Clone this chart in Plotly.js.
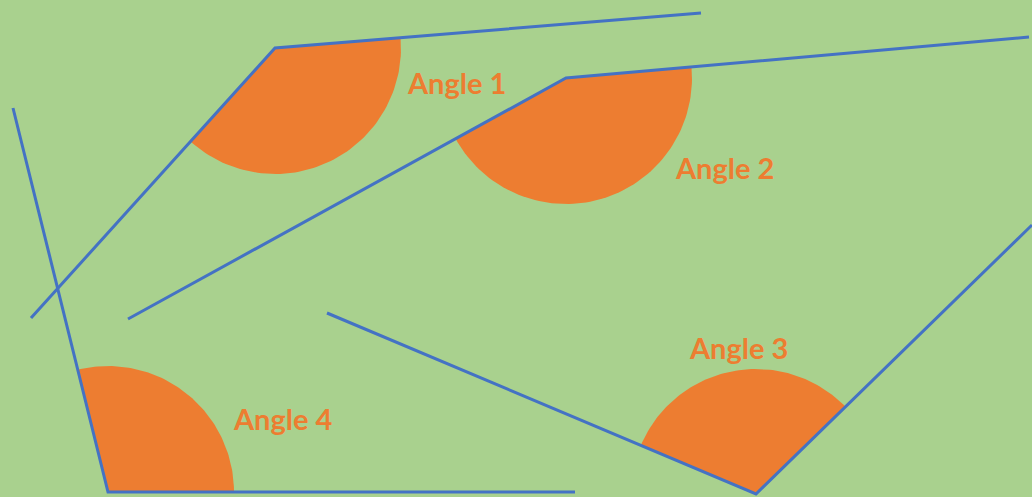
<!DOCTYPE html>
<html><head><meta charset="utf-8">
<script src="https://cdn.plot.ly/plotly-3.0.1.min.js"></script>
<style>html,body{margin:0;padding:0;background:#A9D18E;}#chart{width:1032px;height:497px;}</style>
</head><body><div id="chart"></div>
<script>
// Angle data (pixel-like coordinates, y downward)
const angleNames = ["Angle 1", "Angle 2", "Angle 3", "Angle 4"];
const vertexX = [275, 566, 756, 108];
const vertexY = [48, 78, 494, 492];
const rayAX = [31, 128, 327, 13];
const rayAY = [318, 319, 313, 108];
const rayBX = [701, 1029, 1032, 575];
const rayBY = [13, 37, 225, 492];
const arcRadius = [126, 126, 125, 126];
const labelX = [456, 724, 738, 283];
const labelY = [82, 167, 347, 418];

const traces = [];
for (let i = 0; i < vertexX.length; i++) {
  const vx = vertexX[i], vy = vertexY[i], r = arcRadius[i];
  const a1 = Math.atan2(rayAY[i] - vy, rayAX[i] - vx);
  const a2 = Math.atan2(rayBY[i] - vy, rayBX[i] - vx);
  let d = a2 - a1;
  while (d > Math.PI) d -= 2 * Math.PI;
  while (d <= -Math.PI) d += 2 * Math.PI;
  const xs = [vx], ys = [vy];
  const n = 80;
  for (let k = 0; k <= n; k++) {
    const a = a1 + d * k / n;
    xs.push(vx + r * Math.cos(a));
    ys.push(vy + r * Math.sin(a));
  }
  xs.push(vx); ys.push(vy);
  traces.push({x: xs, y: ys, type: 'scatter', mode: 'lines', fill: 'toself',
    fillcolor: '#ED7D31', line: {width: 0, color: '#ED7D31'}, hoverinfo: 'skip', showlegend: false});
}
for (let i = 0; i < vertexX.length; i++) {
  traces.push({x: [rayAX[i], vertexX[i], rayBX[i]], y: [rayAY[i], vertexY[i], rayBY[i]],
    type: 'scatter', mode: 'lines', line: {color: '#4472C4', width: 3}, hoverinfo: 'skip', showlegend: false});
}
const annotations = angleNames.map((t, i) => ({
  x: labelX[i], y: labelY[i], xref: 'x', yref: 'y', text: '<b>' + t + '</b>', showarrow: false,
  font: {family: 'Lato, "Open Sans", sans-serif', size: 29, color: '#ED7D31'},
  xanchor: 'center', yanchor: 'middle'
}));
const layout = {
  width: 1032, height: 497, margin: {l: 0, r: 0, t: 0, b: 0},
  paper_bgcolor: '#A9D18E', plot_bgcolor: '#A9D18E',
  xaxis: {range: [0, 1032], visible: false, fixedrange: true},
  yaxis: {range: [497, 0], visible: false, fixedrange: true},
  annotations: annotations, showlegend: false
};
Plotly.newPlot('chart', traces, layout, {staticPlot: true, displayModeBar: false});
</script></body></html>
